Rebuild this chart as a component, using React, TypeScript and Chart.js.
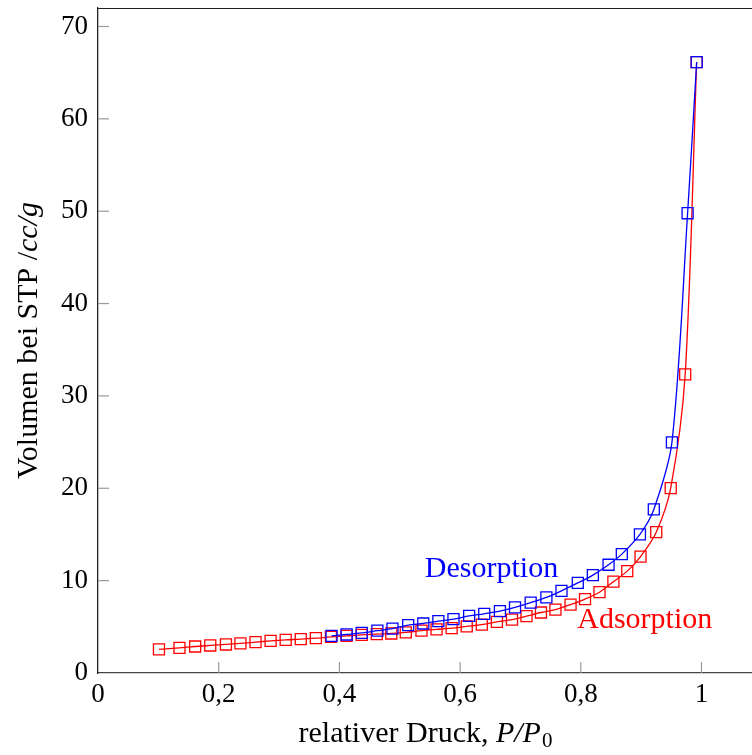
import React, { useEffect, useRef } from "react";
import { Chart, registerables } from "chart.js";

Chart.register(...registerables);

const adsX = [0.101, 0.135, 0.161, 0.186, 0.212, 0.236, 0.261, 0.286, 0.311, 0.336, 0.361, 0.386, 0.412, 0.437, 0.462, 0.486, 0.51, 0.536, 0.561, 0.586, 0.611, 0.636, 0.661, 0.686, 0.71, 0.734, 0.758, 0.783, 0.807, 0.831, 0.854, 0.877, 0.899, 0.925, 0.949, 0.973, 0.992];
const adsY = [2.55, 2.72, 2.87, 2.98, 3.09, 3.2, 3.34, 3.48, 3.59, 3.66, 3.77, 3.91, 4.02, 4.13, 4.2, 4.28, 4.39, 4.58, 4.72, 4.85, 5.05, 5.23, 5.54, 5.77, 6.15, 6.55, 6.86, 7.4, 8.0, 8.75, 9.89, 11.03, 12.6, 15.25, 20.02, 32.34, 66.14];
const desX = [0.387, 0.412, 0.437, 0.463, 0.488, 0.514, 0.539, 0.564, 0.589, 0.615, 0.64, 0.666, 0.691, 0.717, 0.743, 0.768, 0.795, 0.82, 0.846, 0.868, 0.898, 0.921, 0.951, 0.977, 0.992];
const desY = [4.02, 4.17, 4.34, 4.58, 4.8, 5.18, 5.36, 5.61, 5.83, 6.18, 6.41, 6.7, 7.1, 7.62, 8.18, 8.89, 9.75, 10.6, 11.72, 12.87, 15.01, 17.71, 24.97, 49.78, 66.14];

const xTicks = [0, 0.2, 0.4, 0.6, 0.8, 1];
const xTickLabels = ["0", "0,2", "0,4", "0,6", "0,8", "1"];
const yTicks = [0, 10, 20, 30, 40, 50, 60, 70];

const seriesNames = ["Desorption", "Adsorption"];
const labelX = [0.652, 0.906];
const labelY = [11.3, 5.72];

const FONT = "'Liberation Serif', 'Times New Roman', serif";
const FS = 27;
const FT = 30;

const zeroPad = (s: any) => {
  s.paddingLeft = 0;
  s.paddingRight = 0;
  s.paddingTop = 0;
  s.paddingBottom = 0;
};

export default function App() {
  const ref = useRef<HTMLCanvasElement | null>(null);
  useEffect(() => {
    if (!ref.current) return;
    const decor = {
      id: "decor",
      afterDatasetsDraw(chart: any) {
        const ctx = chart.ctx;
        const a = chart.chartArea;
        const xs = chart.scales.x;
        const ys = chart.scales.y;
        ctx.save();
        ctx.strokeStyle = "#222";
        ctx.lineWidth = 1.2;
        ctx.beginPath();
        ctx.moveTo(a.left, a.top + 0.5);
        ctx.lineTo(a.right + 2, a.top + 0.5);
        ctx.stroke();
        ctx.strokeStyle = "#9a9a9a";
        ctx.lineWidth = 1.2;
        xTicks.forEach((t) => {
          if (t === 0) return;
          const px = xs.getPixelForValue(t);
          ctx.beginPath();
          ctx.moveTo(px, a.bottom);
          ctx.lineTo(px, a.bottom - 11);
          ctx.stroke();
        });
        yTicks.forEach((t) => {
          if (t === 0) return;
          const py = ys.getPixelForValue(t);
          ctx.beginPath();
          ctx.moveTo(a.left, py);
          ctx.lineTo(a.left + 11, py);
          ctx.stroke();
        });
        ctx.font = `${FT}px ${FONT}`;
        ctx.textAlign = "center";
        ctx.textBaseline = "middle";
        const cols = ["#0000ff", "#ff0000"];
        seriesNames.forEach((n, i) => {
          ctx.fillStyle = cols[i];
          ctx.fillText(n, xs.getPixelForValue(labelX[i]), ys.getPixelForValue(labelY[i]));
        });
        ctx.fillStyle = "#000";
        ctx.textAlign = "left";
        ctx.textBaseline = "alphabetic";
        const p1 = "relativer Druck, ";
        const p2 = "P/P";
        const p3 = "0";
        ctx.font = `${FT}px ${FONT}`;
        const w1 = ctx.measureText(p1).width;
        ctx.font = `italic ${FT}px ${FONT}`;
        const w2 = ctx.measureText(p2).width;
        ctx.font = `${Math.round(FT * 0.7)}px ${FONT}`;
        const w3 = ctx.measureText(p3).width;
        const tot = w1 + w2 + w3;
        const sx = (a.left + a.right) / 2 - tot / 2;
        const by = 742;
        ctx.font = `${FT}px ${FONT}`;
        ctx.fillText(p1, sx, by);
        ctx.font = `italic ${FT}px ${FONT}`;
        ctx.fillText(p2, sx + w1, by);
        ctx.font = `${Math.round(FT * 0.7)}px ${FONT}`;
        ctx.fillText(p3, sx + w1 + w2 + 1, by + 5);
        ctx.save();
        ctx.translate(37, (a.top + a.bottom) / 2);
        ctx.rotate(-Math.PI / 2);
        const q1 = "Volumen bei STP /";
        const q2 = "cc/g";
        ctx.font = `${FT}px ${FONT}`;
        const v1 = ctx.measureText(q1).width;
        ctx.font = `italic ${FT}px ${FONT}`;
        const v2 = ctx.measureText(q2).width;
        const sy = -(v1 + v2) / 2;
        ctx.font = `${FT}px ${FONT}`;
        ctx.fillText(q1, sy, 0);
        ctx.font = `italic ${FT}px ${FONT}`;
        ctx.fillText(q2, sy + v1, 0);
        ctx.restore();
        ctx.restore();
      },
    };
    const chart = new Chart(ref.current, {
      type: "line",
      data: {
        datasets: [
          {
            label: "Desorption",
            data: desX.map((x, i) => ({ x, y: desY[i] })),
            borderColor: "#0000ff",
            backgroundColor: "transparent",
            pointStyle: "rect",
            pointRadius: 7.8,
            pointBorderWidth: 1.3,
            pointBackgroundColor: "transparent",
            pointBorderColor: "#0000ff",
            borderWidth: 1.3,
            tension: 0.3,
            order: 0,
          },
          {
            label: "Adsorption",
            data: adsX.map((x, i) => ({ x, y: adsY[i] })),
            borderColor: "#ff0000",
            backgroundColor: "transparent",
            pointStyle: "rect",
            pointRadius: 7.8,
            pointBorderWidth: 1.3,
            pointBackgroundColor: "transparent",
            pointBorderColor: "#ff0000",
            borderWidth: 1.3,
            tension: 0.3,
            order: 1,
          },
        ],
      },
      options: {
        responsive: false,
        animation: false,
        layout: { autoPadding: false, padding: { top: 8, right: 0, left: 0, bottom: 0 } },
        plugins: { legend: { display: false }, tooltip: { enabled: false } },
        scales: {
          x: {
            type: "linear",
            min: 0,
            max: 1.0837,
            afterBuildTicks: (s: any) => {
              s.ticks = xTicks.map((v) => ({ value: v }));
            },
            afterFit: (s: any) => {
              s.height = 82;
              zeroPad(s);
            },
            grid: { display: false, drawTicks: false },
            border: { display: true, color: "#444", width: 1.3 },
            ticks: {
              padding: 6,
              color: "#000",
              font: { family: FONT, size: FS },
              maxRotation: 0,
              callback: (v: any) => {
                const i = xTicks.indexOf(Number(v));
                return i >= 0 ? xTickLabels[i] : "";
              },
            },
          },
          y: {
            type: "linear",
            min: 0,
            max: 72,
            afterBuildTicks: (s: any) => {
              s.ticks = yTicks.map((v) => ({ value: v }));
            },
            afterFit: (s: any) => {
              s.width = 98;
              zeroPad(s);
            },
            grid: { display: false, drawTicks: false },
            border: { display: true, color: "#222", width: 1.3 },
            ticks: {
              padding: 10,
              color: "#000",
              font: { family: FONT, size: FS },
              callback: (v: any) => String(v),
            },
          },
        },
      },
      plugins: [decor],
    });
    return () => chart.destroy();
  }, []);
  return (
    <div style={{ position: "absolute", left: 0, top: 0, width: 752, height: 755, background: "#fff" }}>
      <canvas ref={ref} width={752} height={755} />
    </div>
  );
}
